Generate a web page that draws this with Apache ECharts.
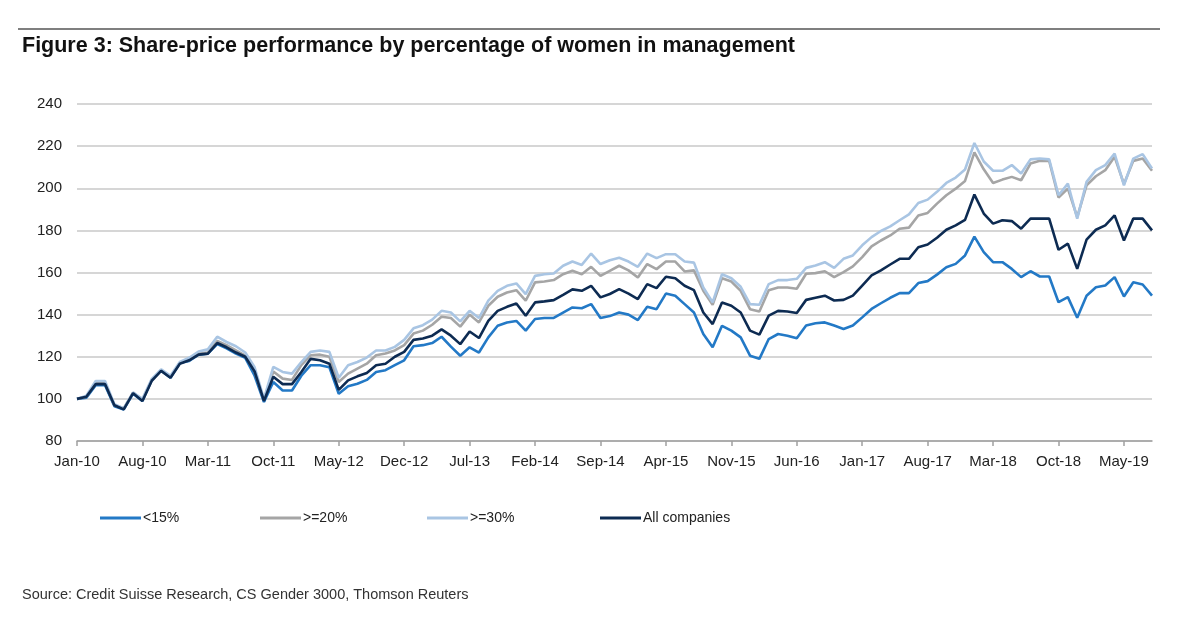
<!DOCTYPE html>
<html>
<head>
<meta charset="utf-8">
<script src="https://cdn.jsdelivr.net/npm/echarts@6/dist/echarts.min.js"></script>
<style>
  html, body { margin: 0; padding: 0; background: #ffffff; }
  #chart { width: 1200px; height: 632px; }
</style>
</head>
<body>
<div id="chart"></div>
<script>
// Monthly categories Jan-10 .. Aug-19
const monthNames = ['Jan','Feb','Mar','Apr','May','Jun','Jul','Aug','Sep','Oct','Nov','Dec'];
const categories = [];
for (let y = 10; y <= 19; y++) {
  for (let m = 0; m < 12; m++) {
    if (y === 19 && m > 7) break;
    categories.push(monthNames[m] + '-' + y);
  }
}

const seriesNames = ['<15%', '>=20%', '>=30%', 'All companies'];

const under15 = [
  100, 100.5, 106.5, 106.5, 96.5, 95, 102.5, 99, 109, 113.5,
  110, 117, 118, 121, 121.5, 126, 124, 121.5, 119.5, 111,
  98.5, 108, 104, 104, 111, 116, 116, 115, 102.4, 106,
  107.2, 109, 112.8, 113.6, 116, 118.3, 125, 125.5, 126.5, 129.5,
  124.8, 120.5, 124.5, 122, 129.2, 134.7, 136.3, 137, 132.4, 137.9,
  138.4, 138.4, 141, 143.4, 143, 145, 138.4, 139.3, 141, 140,
  137.4, 143.7, 142.6, 150, 149, 145, 141, 130.8, 124.5, 134.7,
  132.4, 129.2, 120.5, 119, 128.4, 130.8, 130, 128.8, 134.8, 135.9,
  136.3, 134.8, 133.2, 134.8, 138.7, 142.7, 145.4, 148, 150.2, 150.2,
  155, 155.9, 159, 162.5, 164.1, 168.1, 177, 169.7, 164.9, 164.9,
  161.7, 157.8, 160.6, 158.1, 158.1, 145.9, 148.3, 138.5, 149, 153,
  153.8, 157.8, 148.6, 155.4, 154.3, 149
];

const over20 = [
  100, 101, 107.5, 107.5, 97, 95.5, 103, 99.5, 109, 113.5,
  110.5, 117, 118.5, 121.5, 122, 127.5, 125.5, 123, 120.5, 113,
  99.5, 113, 109.6, 109, 116, 120.7, 121, 120, 108, 112,
  114.4, 116.7, 120.7, 121.5, 123, 125.5, 131, 132.4, 135.2, 139,
  138.4, 134.3, 140, 136.3, 144.2, 148.5, 150.5, 151.6, 146.6, 155.3,
  155.7, 156.4, 159.2, 160.8, 159.2, 162.7, 158.4, 160.8, 163.2, 161,
  157.6, 164, 161.6, 165.2, 165.2, 160.5, 161, 151.3, 144.7, 157.3,
  155.7, 151.3, 142.6, 141.5, 151.6, 152.9, 152.9, 152.3, 159.4, 159.7,
  160.6, 157.8, 160.2, 162.9, 167.3, 172.4, 175.2, 177.6, 180.8, 181.3,
  187.1, 188.3, 192.7, 196.7, 199.8, 203.5, 217, 209, 202.5, 204.1,
  205.4, 203.8, 211.7, 213, 213, 195.6, 199.8, 186.3, 201.4, 205.7,
  208.6, 214.9, 202, 213, 214.1, 208.3
];

const over30 = [
  100, 101.5, 108.5, 108.5, 97.5, 95.5, 103, 100, 109.5, 114,
  111, 117.5, 119.5, 122.5, 123.5, 129.5, 127, 125, 122, 115,
  100, 115.2, 112.8, 112, 117.5, 122.3, 123, 122.3, 110, 116,
  117.5, 119.6, 123, 123, 124.7, 128, 133.5, 135, 137.6, 141.8,
  141, 136.8, 141.8, 138.4, 146.6, 151.3, 153.7, 154.8, 149.7, 158.4,
  159.2, 159.5, 163.2, 165.2, 163.6, 169, 164, 165.8, 167, 165.2,
  162.7, 169, 166.8, 168.7, 168.7, 165.2, 164.7, 152.9, 145.8, 159.2,
  157.3, 153.2, 145, 144.7, 154.5, 156.4, 156.4, 157, 162.2, 163.3,
  164.9, 162.2, 166.5, 168.1, 172.9, 176.8, 179.7, 181.9, 184.8, 187.6,
  193, 194.6, 198.3, 202.5, 205.1, 208.9, 221.5, 212.7, 208.3, 208.3,
  211, 207, 213.7, 214.1, 213.7, 196.7, 202.2, 185.6, 203, 208.6,
  211, 216.5, 201.4, 214.1, 216.2, 209.4
];

const allCompanies = [
  100, 101, 107, 107, 97, 95, 102.7, 99, 108.6, 113.3,
  110, 116.7, 118.3, 121, 121.5, 126.5, 124.5, 122, 120, 113,
  99, 110.5, 107, 107, 112.8, 119, 118.3, 116.7, 104.3, 108.8,
  110.7, 112.3, 116, 116.7, 120, 122.3, 128, 128.7, 130, 133,
  130, 126, 132, 128.9, 137, 141.8, 143.7, 145.3, 139.5, 145.8,
  146.3, 146.9, 149.4, 152, 151.3, 153.7, 148.2, 149.8, 152.1, 150,
  147.4, 154.5, 152.6, 158, 157.3, 153.7, 151.6, 141, 135.5, 145.8,
  144.2, 141, 132.4, 130.5, 139.5, 141.8, 141.5, 140.8, 147, 148,
  149, 146.7, 147, 149, 153.8, 158.6, 161, 163.8, 166.5, 166.5,
  172, 173.3, 176.5, 180.3, 182.4, 185, 197, 188, 183.2, 184.8,
  184.4, 180.8, 185.6, 185.6, 185.6, 170.8, 173.7, 161.7, 175.6, 180.3,
  182.4, 187.1, 175.2, 185.6, 185.6, 180
];

const seriesData = [under15, over20, over30, allCompanies];
const colors = ['#2379c6', '#a5a5a5', '#a9c5e3', '#0d2b52'];
const legendLeft = [95, 255, 422, 595];

const FONT = '"Liberation Sans", Arial, Helvetica, sans-serif';

const chart = echarts.init(document.getElementById('chart'), null, { renderer: 'canvas' });

const option = {
  animation: false,
  backgroundColor: '#ffffff',
  textStyle: { fontFamily: FONT },
  grid: { left: 77, right: 48, top: 104, bottom: 191, containLabel: false },
  legend: seriesNames.map((n, i) => ({
    data: [n],
    left: legendLeft[i],
    top: 506,
    icon: 'rect',
    itemWidth: 41,
    itemHeight: 3,
    itemGap: 0,
    textStyle: { fontFamily: FONT, fontSize: 14, color: '#222', padding: [0, 0, 0, -3] },
    selectedMode: false
  })),
  xAxis: {
    type: 'category',
    data: categories,
    boundaryGap: false,
    axisLine: { lineStyle: { color: '#a0a0a0', width: 1.5 } },
    axisTick: { interval: 6, length: 5, lineStyle: { color: '#a0a0a0', width: 1.5 } },
    axisLabel: { interval: 6, color: '#222', fontSize: 15, fontFamily: FONT, margin: 13 },
    splitLine: { show: false }
  },
  yAxis: {
    type: 'value',
    min: 80,
    max: 240,
    interval: 20,
    axisLine: { show: false },
    axisTick: { show: false },
    axisLabel: { color: '#222', fontSize: 15, fontFamily: FONT, margin: 15 },
    splitLine: { lineStyle: { color: '#c9c9c9', width: 1.5 } }
  },
  series: seriesNames.map((n, i) => ({
    name: n,
    type: 'line',
    data: seriesData[i],
    symbol: 'none',
    smooth: false,
    lineStyle: { color: colors[i], width: 2.6 },
    itemStyle: { color: colors[i] },
    z: 2 + i
  })),
  graphic: [
    {
      type: 'line',
      shape: { x1: 18, y1: 29, x2: 1160, y2: 29 },
      style: { stroke: '#555', lineWidth: 1.5 }
    },
    {
      type: 'text',
      left: 22,
      top: 35,
      style: {
        text: 'Figure 3: Share-price performance by percentage of women in management',
        font: 'bold 21.5px ' + FONT,
        fill: '#111'
      }
    },
    {
      type: 'text',
      left: 22,
      top: 587,
      style: {
        text: 'Source: Credit Suisse Research, CS Gender 3000, Thomson Reuters',
        font: '14.5px ' + FONT,
        fill: '#333'
      }
    }
  ]
};

chart.setOption(option);
</script>
</body>
</html>
